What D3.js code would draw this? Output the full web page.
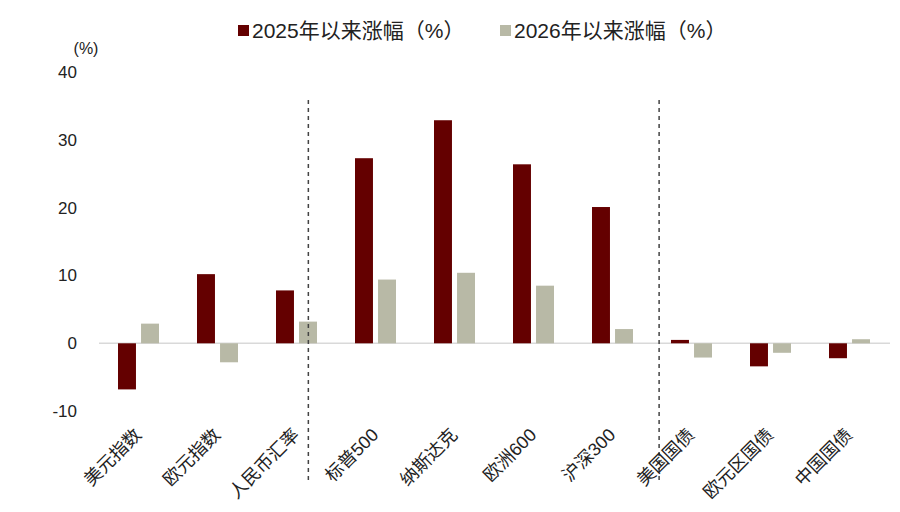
<!DOCTYPE html>
<html>
<head>
<meta charset="utf-8">
<script src="https://cdn.jsdelivr.net/npm/d3@7/dist/d3.min.js"></script>
<style>
  body { margin: 0; background: #ffffff; }
  text { font-family: "Liberation Sans", Arial, "Noto Sans CJK SC", sans-serif; fill: #222; }
</style>
</head>
<body>
<script>
// categories and series
var categories = ["美元指数", "欧元指数", "人民币汇率", "标普500", "纳斯达克", "欧洲600", "沪深300", "美国国债", "欧元区国债", "中国国债"];
var seriesNames = ["2025年以来涨幅（%）", "2026年以来涨幅（%）"];
var since2025 = [-6.8, 10.2, 7.8, 27.3, 32.9, 26.4, 20.1, 0.5, -3.4, -2.2];
var since2026 = [2.9, -2.8, 3.2, 9.4, 10.4, 8.5, 2.1, -2.1, -1.4, 0.6];
var yTicks = [-10, 0, 10, 20, 30, 40];
var colors = ["#640000", "#b8b9a6"];

var width = 900, height = 512;

var svg = d3.select("body").append("svg")
    .attr("width", width)
    .attr("height", height);

// x scale for groups
var x0 = d3.scaleBand()
    .domain(categories)
    .range([99, 889])
    .paddingInner(0)
    .paddingOuter(0);

var bw = x0.bandwidth();

// x scale inside a group
var x1 = d3.scaleBand()
    .domain(seriesNames)
    .range([bw / 2 - 20.5, bw / 2 + 20.5])
    .paddingInner(0.22);

// y scale
var y = d3.scaleLinear()
    .domain([-10, 40])
    .range([411.1, 72.1]);

// y axis labels only, no line no ticks (plain hyphen for negatives)
var yAxis = d3.axisLeft(y)
    .tickValues(yTicks)
    .tickSize(0)
    .tickPadding(0)
    .tickFormat(function(d) { return String(d); });

var yg = svg.append("g")
    .attr("transform", "translate(77,0)")
    .call(yAxis);
yg.select(".domain").remove();
yg.selectAll("text")
    .style("font-size", "17px")
    .style("font-family", "'Liberation Sans', Arial, sans-serif")
    .attr("fill", "#222");

svg.append("text")
    .attr("x", 86)
    .attr("y", 54)
    .attr("text-anchor", "middle")
    .style("font-size", "16px")
    .text("(%)");

// zero line
svg.append("line")
    .attr("x1", 99)
    .attr("x2", 890)
    .attr("y1", y(0))
    .attr("y2", y(0))
    .attr("stroke", "#d9d9d9")
    .attr("stroke-width", 1.6);

var rows = categories.map(function(c, i) {
    return { cat: c, vals: [since2025[i], since2026[i]] };
});

var group = svg.selectAll(".grp")
    .data(rows)
    .enter().append("g")
    .attr("class", "grp")
    .attr("transform", function(d) { return "translate(" + x0(d.cat) + ",0)"; });

group.selectAll("rect")
    .data(function(d) {
        return d.vals.map(function(v, k) { return { s: seriesNames[k], v: v, k: k }; });
    })
    .enter().append("rect")
    .attr("x", function(d) { return x1(d.s); })
    .attr("width", x1.bandwidth())
    .attr("y", function(d) { return y(Math.max(0, d.v)); })
    .attr("height", function(d) { return Math.abs(y(d.v) - y(0)); })
    .attr("fill", function(d) { return colors[d.k]; });

// dashed dividers between currency / equity / bond blocks
var dividers = [
    x0("人民币汇率") + bw * 0.65,
    x0("美国国债") + bw * 0.09
];
svg.selectAll(".divider")
    .data(dividers)
    .enter().append("line")
    .attr("class", "divider")
    .attr("x1", function(d) { return d; })
    .attr("x2", function(d) { return d; })
    .attr("y1", 100)
    .attr("y2", 482)
    .attr("stroke", "#444")
    .attr("stroke-width", 1.5)
    .attr("stroke-dasharray", "4,4");

// rotated category labels
svg.selectAll(".xlab")
    .data(categories)
    .enter().append("text")
    .attr("class", "xlab")
    .attr("text-anchor", "end")
    .attr("transform", function(d) {
        return "translate(" + (x0(d) + bw / 2 + 4) + ",436) rotate(-45)";
    })
    .style("font-size", "18px")
    .text(function(d) { return d; });

// legend
var legendX = [238, 500];
var legend = svg.selectAll(".leg")
    .data(seriesNames)
    .enter().append("g")
    .attr("class", "leg")
    .attr("transform", function(d, i) { return "translate(" + legendX[i] + ",0)"; });

legend.append("rect")
    .attr("x", 0)
    .attr("y", 25)
    .attr("width", 11)
    .attr("height", 11)
    .attr("fill", function(d, i) { return colors[i]; });

legend.append("text")
    .attr("x", 14)
    .attr("y", 38)
    .style("font-size", "21px")
    .text(function(d) { return d; });
</script>
</body>
</html>
